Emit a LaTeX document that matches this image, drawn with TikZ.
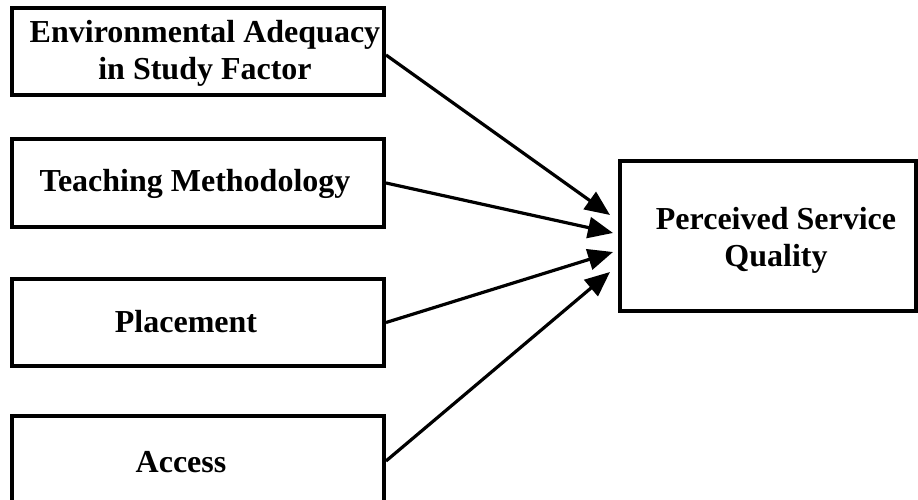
\documentclass[tikz,border=0pt]{standalone}
\usepackage{fontspec}
\setmainfont{Liberation Serif}
\usetikzlibrary{arrows.meta}

\tikzset{
  factorbox/.style={draw=black, line width=4pt, fill=white, minimum width=372pt,
    minimum height=87pt, inner sep=0pt},
  outcomebox/.style={draw=black, line width=4pt, fill=white, minimum width=296pt,
    minimum height=150pt, inner sep=0pt},
  lbl/.style={font=\fontsize{32}{37}\selectfont\bfseries, align=center, inner sep=0pt},
  link/.style={line width=3.2pt, -{Triangle[length=25pt,width=21pt]}},
}

\begin{document}
\begin{tikzpicture}[x=1pt, y=-1pt]
  \clip (0,0) rectangle (918,500);
  \fill[white] (0,0) rectangle (918,500);

  % factor boxes on the left
  \node[factorbox] (env)   at (198,52)    {};
  \node[factorbox] (teach) at (198,183)   {};
  \node[factorbox] (place) at (198,322.5) {};
  \node[factorbox] (acc)   at (198,459)   {};

  \node[lbl] (envT)   at (205,53)  {Environmental Adequacy\\in Study Factor};
  \node[lbl] (teachT) at (195,184) {Teaching Methodology};
  \node[lbl] (placeT) at (186,322) {Placement};
  \node[lbl] (accT)   at (181,462) {Access};

  % outcome box on the right
  \node[outcomebox] (psq) at (768,236) {};
  \node[lbl] (psqT) at (776,240) {Perceived Service\\Quality};

  % arrow targets just in front of the outcome box
  \coordinate (t1) at (610,215);
  \coordinate (t2) at (613,233);
  \coordinate (t3) at (613,252);
  \coordinate (t4) at (610,272);

  \draw[link] ([yshift=-3pt]env.east) -- (t1);
  \draw[link] (teach.east) -- (t2);
  \draw[link] (place.east) -- (t3);
  \draw[link] ([yshift=-2pt]acc.east) -- (t4);
\end{tikzpicture}
\end{document}
